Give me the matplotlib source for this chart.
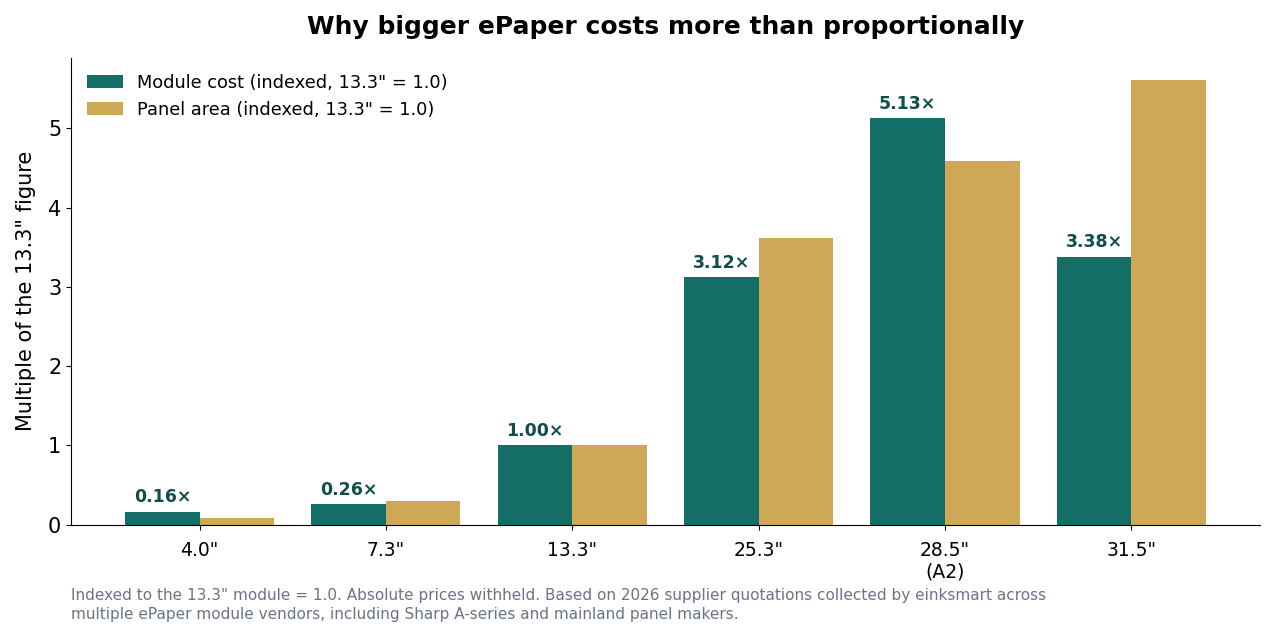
import matplotlib
matplotlib.use('Agg')
import matplotlib.pyplot as plt
import numpy as np

sizes = ['4.0"', '7.3"', '13.3"', '25.3"', '28.5"\n(A2)', '31.5"']
module_cost = [0.16, 0.26, 1.00, 3.12, 5.13, 3.38]
panel_area = [0.09, 0.30, 1.00, 3.62, 4.59, 5.61]

TEAL = '#136f66'
GOLD = '#cfa857'
LABEL = '#0e4f49'

fig, ax = plt.subplots(figsize=[12.75, 6.36], dpi=100)
fig.subplots_adjust(left=0.0557, right=0.9882, top=0.909, bottom=0.175)

x = np.arange(len(sizes))
w = 0.4
bars = ax.bar(x - w/2, module_cost, w, color=TEAL, label='Module cost (indexed, 13.3" = 1.0)')
ax.bar(x + w/2, panel_area, w, color=GOLD, label='Panel area (indexed, 13.3" = 1.0)')

for b, v in zip(bars, module_cost):
    ax.annotate('%.2f\u00d7' % v, (b.get_x() + b.get_width()/2, v), xytext=(0, 4),
                textcoords='offset points', ha='center', va='bottom',
                fontsize=12.5, fontweight='bold', color=LABEL)

ax.set_xticks(x)
ax.set_xticklabels(sizes, fontsize=13.5)
ax.tick_params(axis='x', pad=8)
ax.tick_params(axis='y', labelsize=15)
ax.set_ylabel('Multiple of the 13.3" figure', fontsize=15, labelpad=9)
ax.set_title('Why bigger ePaper costs more than proportionally', fontsize=18, fontweight='bold', pad=17)
ax.spines['top'].set_visible(False)
ax.spines['right'].set_visible(False)
ax.legend(loc='upper left', frameon=False, fontsize=12.8)

fig.text(0.0557, 0.022, 'Indexed to the 13.3" module = 1.0. Absolute prices withheld. Based on 2026 supplier quotations collected by einksmart across\n'
         'multiple ePaper module vendors, including Sharp A-series and mainland panel makers.',
         fontsize=11, color='#6b7385', ha='left', va='bottom', linespacing=1.3)

plt.savefig('out.png', dpi=100)
